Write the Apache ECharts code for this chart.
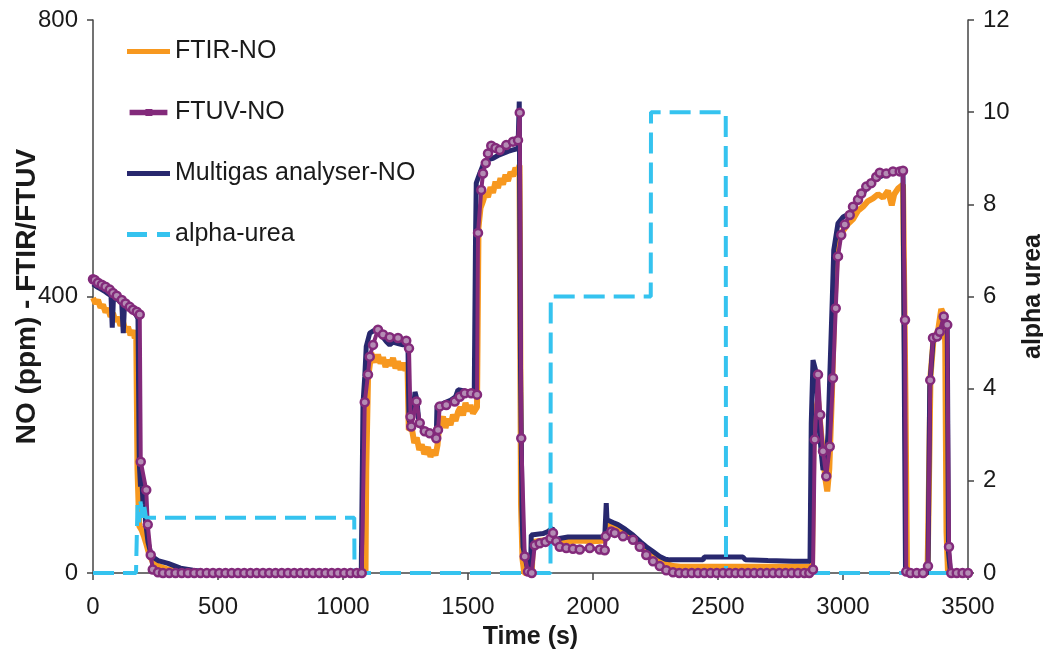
<!DOCTYPE html>
<html><head><meta charset="utf-8">
<script src="https://cdn.jsdelivr.net/npm/echarts@6/dist/echarts.min.js"></script>
<style>html,body{margin:0;padding:0;background:#fff}#c{width:1043px;height:655px}</style>
</head><body><div id="c"></div>
<script>
// ---- data (time in s, NO in ppm, alpha-urea dimensionless) ----
const xTicks = [0, 500, 1000, 1500, 2000, 2500, 3000, 3500];
const leftTicks = [0, 400, 800];
const rightTicks = [0, 2, 4, 6, 8, 10, 12];

const ftirT = [0,10,20,30,40,50,60,70,80,90,100,110,120,130,140,150,160,167,173,178,185,195,205,215,225,240,260,300,400,500,700,900,1090,
  1093,1100,1113,1120,1130,1140,1150,1160,1170,1180,1190,1200,1210,1220,1230,1240,1250,1258,1263,1275,1285,1295,1305,1315,1325,1340,1350,1360,1370,1378,
  1385,1400,1410,1420,1430,1440,1450,1460,1470,1480,1490,1500,1510,1520,1536,1542,1550,1560,1570,1580,1590,1600,1610,1620,1630,1640,1650,1660,1670,1680,1690,1700,1706,1712,1718,1725,1755,
  1760,1780,1800,1830,1850,1900,1950,2000,2048,2055,2080,2100,2130,2160,2190,2213,2240,2267,2295,2320,2350,2500,2700,2876,
  2882,2890,2900,2910,2920,2930,2937,2945,2955,2965,2975,2985,3000,3020,3040,3060,3080,3100,3120,3140,3160,3180,3195,3205,3220,3240,3246,3250,3256,3338,
  3343,3350,3362,3380,3393,3405,3409,3414,3420,3500];
const ftirV = [398,390,395,384,388,377,383,371,376,364,370,358,364,349,356,344,351,340,343,150,68,62,52,40,27,15,10,5,1,0,0,0,0,
  150,280,318,312,305,316,303,312,298,308,300,311,296,306,294,304,293,300,207,210,188,196,178,186,172,182,168,178,170,185,
  214,226,210,223,214,229,220,233,240,228,246,234,243,231,240,500,528,538,550,544,558,550,566,557,571,562,576,567,580,574,586,580,590,100,20,0,0,
  45,46,47,45,48,46,47,46,47,72,68,62,56,50,40,32,25,18,13,10,9,9,9,9,
  200,232,250,212,170,135,118,150,250,380,460,488,495,505,512,524,530,538,542,548,543,553,532,548,556,562,560,250,0,0,
  110,285,338,350,382,372,330,60,0,0];

const ftuvT = [0,7,20,35,50,67,80,95,115,130,147,160,175,187,191,213,219,231,239,260,
  280,305,330,355,380,405,430,455,480,505,530,555,580,605,630,655,680,705,730,755,780,805,830,855,880,905,930,955,980,1005,1030,1055,1075,
  1087,1100,1107,1120,1140,1160,1187,1220,1253,1264,1270,1273,1294,1307,1327,1347,1373,1380,1387,1413,1447,1467,1487,1513,1536,
  1540,1553,1560,1571,1580,1593,1610,1627,1653,1680,1700,1707,1713,1727,1740,1755,
  1767,1787,1810,1830,1840,1853,1867,1893,1920,1947,1987,2027,2047,2051,2073,2087,2120,2160,2187,2213,2240,2267,2293,2320,2345,
  2370,2395,2420,2445,2470,2495,2520,2545,2570,2595,2620,2645,2670,2695,2720,2745,2770,2795,2820,2845,2865,2880,
  2887,2900,2909,2920,2933,2947,2960,2971,2980,2993,3007,3027,3040,3060,3073,3093,3113,3133,3147,3173,3200,3227,3240,3248,3253,3270,3295,3320,3340,
  3349,3360,3376,3387,3403,3417,3424,3433,3455,3478,3500];
const ftuvV = [425,424,420,417,414,410,405,401,395,390,385,381,378,374,161,120,70,26,5,1,
  0,0,0,0,0,0,0,0,0,0,0,0,0,0,0,0,0,0,0,0,0,0,0,0,0,0,0,0,0,0,0,0,0,
  247,287,313,330,352,345,341,340,336,325,226,212,248,217,205,202,195,207,241,243,248,255,260,260,258,
  492,554,578,593,607,618,615,612,619,624,626,666,195,24,2,0,
  40,43,45,50,58,46,38,36,35,34,36,34,33,53,60,58,53,48,38,26,17,10,4,1,0,
  0,0,0,0,0,0,0,0,0,0,0,0,0,0,0,0,0,0,0,0,0,5,
  193,287,229,176,140,183,282,383,458,489,504,518,530,540,549,559,564,573,579,578,581,581,582,366,2,0,0,0,10,
  279,340,342,349,371,359,38,0,0,0,0];

const multiT = [0,15,30,45,60,72,77,82,100,115,121,126,140,155,170,180,185,190,195,200,205,210,220,230,240,260,300,350,400,450,500,600,800,1000,1073,
  1080,1087,1093,1107,1120,1133,1147,1160,1173,1187,1200,1220,1240,1253,1260,1264,1270,1280,1288,1295,1303,1320,1340,1360,1373,1376,1400,1430,1450,1460,1490,1525,
  1530,1533,1547,1560,1580,1600,1620,1640,1660,1680,1700,1705,1710,1716,1720,1740,1750,
  1753,1800,1820,1838,1850,1865,1900,1950,2000,2047,2053,2056,2080,2100,2130,2160,2190,2213,2240,2267,2290,2307,2350,2400,2440,2445,2500,2550,2600,2610,2700,2800,2868,
  2873,2880,2893,2900,2913,2920,2933,2940,2947,2957,2963,2980,3000,3027,3060,3093,3133,3173,3227,3240,3250,3340,
  3347,3360,3387,3403,3417,3422,3430,3500];
const multiV = [418,414,411,408,404,401,355,399,395,390,347,388,383,379,375,368,160,125,140,100,110,75,45,30,23,18,14,7,4,2,1,0,0,0,0,
  245,284,328,347,350,353,345,341,335,330,334,332,330,332,325,222,215,230,262,252,220,207,200,198,196,242,245,250,255,265,263,262,
  480,564,578,590,598,600,604,607,610,612,614,682,300,90,38,2,2,
  55,57,60,65,46,50,52,52,52,52,101,77,73,70,63,55,45,38,31,24,20,19,19,19,19,23,23,23,23,19,18,17,17,
  217,308,290,230,174,149,164,202,283,395,467,506,515,520,538,556,571,577,580,581,0,0,
  270,335,345,365,355,30,0,0];

const alphaT = [0,172,178,185,190,200,205,212,1045,1046,1830,1831,2231,2232,2531,2532,3500];
const alphaV = [0,0,1.5,1.1,1.55,1.2,1.45,1.2,1.2,0,0,6,6,10,10,0,0];

const zip = (t, v) => t.map((x, i) => [x, v[i]]);

const FONT = '"Liberation Sans", Arial, sans-serif';
const TXT = '#1a1a1a';
const AX = '#444';
const C_FTIR = '#F7981F', C_FTUV = '#832A7B', C_MULTI = '#28286E', C_ALPHA = '#35C3EF';

const chart = echarts.init(document.getElementById('c'), null, {renderer: 'canvas'});
chart.setOption({
  animation: false,
  backgroundColor: '#fff',
  textStyle: {fontFamily: FONT, color: TXT},
  grid: {left: 93, right: 75, top: 20, bottom: 82, containLabel: false, outerBoundsMode: 'none'},
  legend: {
    data: [
      {name: 'FTIR-NO', icon: 'path://M0,0h43v5h-43z', itemStyle: {color: C_FTIR}},
      {name: 'FTUV-NO', icon: 'path://M0,1h19v4h-19z M19,0h6v6h-6z M25,1h18v4h-18z', itemStyle: {color: C_FTUV}},
      {name: 'Multigas analyser-NO', icon: 'path://M0,0h43v5h-43z', itemStyle: {color: C_MULTI}},
      {name: 'alpha-urea', icon: 'path://M0,0h20v5h-20z M30,0h13v5h-13z', itemStyle: {color: C_ALPHA}}
    ],
    orient: 'vertical', left: 127, top: 39, padding: 0,
    itemWidth: 43, itemHeight: 5, itemGap: 36,
    textStyle: {fontFamily: FONT, fontSize: 25, color: TXT}
  },
  xAxis: {
    type: 'value', min: xTicks[0], max: xTicks[xTicks.length - 1], interval: xTicks[1] - xTicks[0],
    name: 'Time (s)', nameLocation: 'middle', nameGap: 52,
    nameTextStyle: {fontFamily: FONT, fontSize: 25, fontWeight: 'bold', color: TXT},
    axisLine: {lineStyle: {color: AX, width: 1.5}},
    axisTick: {show: true, length: 7, lineStyle: {color: AX, width: 1.5}},
    axisLabel: {fontFamily: FONT, fontSize: 24, color: TXT, margin: 22, formatter: v => String(v)},
    splitLine: {show: false}
  },
  yAxis: [{
    type: 'value', min: leftTicks[0], max: leftTicks[leftTicks.length - 1], interval: leftTicks[1] - leftTicks[0],
    name: 'NO (ppm) - FTIR/FTUV', nameLocation: 'middle', nameGap: 52, nameRotate: 90, nameMoveOverlap: false,
    nameTextStyle: {fontFamily: FONT, fontSize: 28, fontWeight: 'bold', color: TXT},
    axisLine: {show: true, lineStyle: {color: AX, width: 1.5}},
    axisTick: {show: true, length: 6, lineStyle: {color: AX, width: 1.5}},
    axisLabel: {fontFamily: FONT, fontSize: 24, color: TXT, margin: 15, formatter: v => String(v)},
    splitLine: {show: false}
  }, {
    type: 'value', position: 'right', min: rightTicks[0], max: rightTicks[rightTicks.length - 1], interval: rightTicks[1] - rightTicks[0],
    name: 'alpha urea', nameLocation: 'middle', nameGap: 50, nameRotate: 90,
    nameTextStyle: {fontFamily: FONT, fontSize: 25, fontWeight: 'bold', color: TXT},
    axisLine: {show: true, lineStyle: {color: AX, width: 1.5}},
    axisTick: {show: true, length: 6, lineStyle: {color: AX, width: 1.5}},
    axisLabel: {fontFamily: FONT, fontSize: 24, color: TXT, margin: 15, formatter: v => String(v)},
    splitLine: {show: false}
  }],
  series: [{
    name: 'FTIR-NO', type: 'line', yAxisIndex: 0, data: zip(ftirT, ftirV),
    symbol: 'none', lineStyle: {color: C_FTIR, width: 6}, itemStyle: {color: C_FTIR}
  }, {
    name: 'Multigas analyser-NO', type: 'line', yAxisIndex: 0, data: zip(multiT, multiV),
    symbol: 'none', lineStyle: {color: C_MULTI, width: 5}, itemStyle: {color: C_MULTI}
  }, {
    name: 'FTUV-NO', type: 'line', yAxisIndex: 0, data: zip(ftuvT, ftuvV),
    symbol: 'circle', symbolSize: 8, showSymbol: true, showAllSymbol: true,
    lineStyle: {color: C_FTUV, width: 4},
    itemStyle: {color: '#B48CB4', borderColor: C_FTUV, borderWidth: 2.5}
  }, {
    name: 'alpha-urea', type: 'line', yAxisIndex: 1, data: zip(alphaT, alphaV),
    symbol: 'none', lineStyle: {color: C_ALPHA, width: 4, type: [21, 9]}, itemStyle: {color: C_ALPHA}
  }]
});
</script></body></html>
